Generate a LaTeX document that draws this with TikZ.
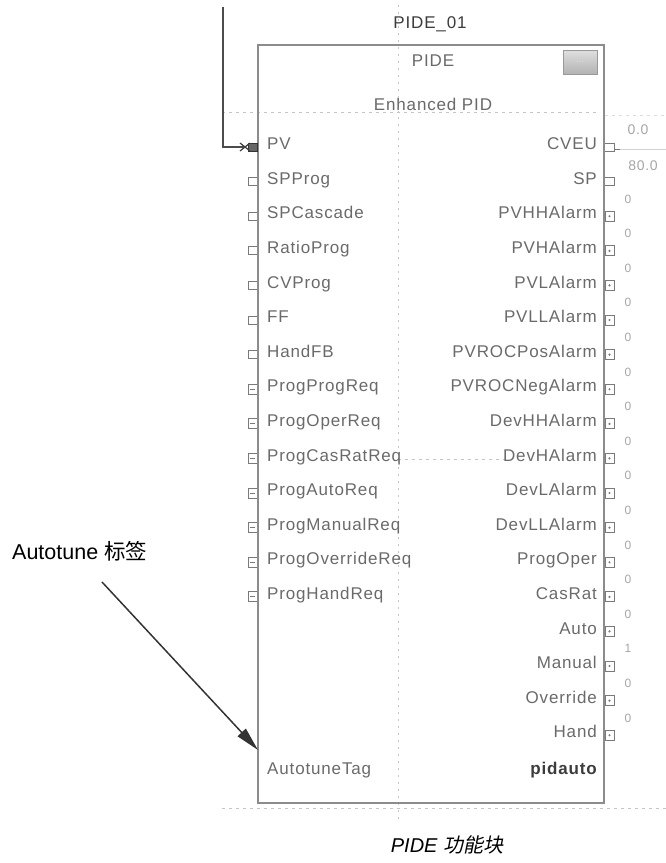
\documentclass[tikz,border=0pt]{standalone}
\usepackage{fontspec}
\setmainfont{Liberation Sans}
\newfontfamily\blk[LetterSpace=5]{Liberation Sans}
\newfontfamily\cjk{Noto Sans CJK SC}
\newfontfamily\cjkit[FakeSlant=0.2]{Noto Sans CJK SC}
\usetikzlibrary{arrows.meta}
\definecolor{blktext}{HTML}{6A6A6A}
\definecolor{blkdark}{HTML}{3C3C3C}
\definecolor{border}{HTML}{8C8C8C}
\definecolor{gridc}{HTML}{C4C4C4}
\definecolor{pinc}{HTML}{7A7A7A}
\tikzset{
  inlbl/.style={font=\blk\fontsize{17}{17}\selectfont, text=blktext, anchor=mid west, inner sep=0pt},
  outlbl/.style={font=\blk\fontsize{17}{17}\selectfont, text=blktext, anchor=mid east, inner sep=0pt},
  vallbl/.style={font=\blk\fontsize{14}{14}\selectfont, text=gray!70, inner sep=0pt},
  gridline/.style={draw=gridc, line width=1pt, dash pattern=on 3pt off 4pt},
  pinline/.style={draw=pinc, line width=1pt},
  wire/.style={draw=black!70, line width=2pt},
}
\begin{document}
\begin{tikzpicture}[x=1pt,y=-1pt]
\useasboundingbox (0,0) rectangle (666,863);
% grid lines
\draw[gridline, dash pattern=on 2pt off 5pt] (398,5) -- (398,822);
\draw[gridline] (222,112) -- (600,112);
\draw[gridline, draw=gridc!60] (605,115) -- (666,115);
\draw[gridline] (398,459) -- (505,459);
\draw[gridline] (222,808) -- (666,808);
% block
\node (blk) [draw=border, line width=2pt, minimum width=346pt, minimum height=758pt, inner sep=0pt] at (431,424) {};
% title
\node (title) [font=\blk\fontsize{17}{17}\selectfont, text=blkdark, inner sep=0pt] at (430,24) {PIDE\_01};
\node (type) [font=\blk\fontsize{17}{17}\selectfont, text=blktext, inner sep=0pt] at (433,61) {PIDE};
\node (desc) [font=\blk\fontsize{17}{17}\selectfont, text=blktext, fill=white, inner sep=1pt] at (433,104) {Enhanced PID};
\node (btn) [draw=gray!80, line width=0.8pt, top color=gray!25, bottom color=gray!60, minimum width=34pt, minimum height=24pt, inner sep=0pt, font=\fontsize{9}{9}\selectfont, text=gray!25] at (580,62) {...};
% inputs
\foreach \lbl [count=\i from 0] in {PV,SPProg,SPCascade,RatioProg,CVProg,FF,HandFB,ProgProgReq,ProgOperReq,ProgCasRatReq,ProgAutoReq,ProgManualReq,ProgOverrideReq,ProgHandReq}{
  \node[inlbl] (in\i) at (267,{147+34.6*\i}) {\lbl};
}
% input pins
\foreach \i in {1,...,6}{
  \draw[pinline] (257,{147+34.6*\i-4}) -- (248,{147+34.6*\i-4}) -- (248,{147+34.6*\i+4}) -- (257,{147+34.6*\i+4});
}
\foreach \i in {7,...,13}{
  \draw[pinline] (257,{147+34.6*\i-5}) -- (248,{147+34.6*\i-5}) -- (248,{147+34.6*\i+5}) -- (257,{147+34.6*\i+5});
  \draw[pinline] (250,{147+34.6*\i}) -- (255,{147+34.6*\i});
}
% PV pin and wire
\coordinate (pvpin) at (246,147);
\coordinate (wtop) at (223,7);
\draw[wire] (wtop) |- (pvpin);
\fill[black!60] (248,143) rectangle (257,151);
\draw[line width=1pt, draw=black!80] (248,143) rectangle (257,151);
\draw[line width=1.2pt, draw=black!75] (240,143) -- (250,151) (240,151) -- (250,143);
% outputs
\foreach \lbl [count=\i from 0] in {CVEU,SP,PVHHAlarm,PVHAlarm,PVLAlarm,PVLLAlarm,PVROCPosAlarm,PVROCNegAlarm,DevHHAlarm,DevHAlarm,DevLAlarm,DevLLAlarm,ProgOper,CasRat,Auto,Manual,Override,Hand}{
  \node[outlbl] (out\i) at (597,{147+34.6*\i}) {\lbl};
}
% output pins
\foreach \i in {0,1}{
  \draw[pinline] (605,{147+34.6*\i-4}) -- (614,{147+34.6*\i-4}) -- (614,{147+34.6*\i+4}) -- (605,{147+34.6*\i+4});
}
\foreach \i in {2,...,17}{
  \draw[pinline] (605,{147+34.6*\i-5}) rectangle (614,{147+34.6*\i+5});
  \fill[pinc] (609.5,{147+34.6*\i}) circle (1.2pt);
}
% CVEU value line
\coordinate (cvend) at (666,149);
\draw[pinline] (614,149) -- (620,149);
\draw[draw=gray!35, line width=0.8pt] (620,149) -- (cvend);
\node[vallbl] (v00) at (638,130) {0.0};
\node[vallbl] (v80) at (643,166) {80.0};
% small output values
\foreach \v [count=\i from 1] in {0,0,0,0,0,0,0,0,0,0,0,0,0,1,0,0}{
  \node[vallbl, font=\blk\fontsize{12}{12}\selectfont] (ov\i) at (628,{147+34.6*(\i+0.5)}) {\v};
}
% bottom labels
\node[inlbl] (atag) at (267,772) {AutotuneTag};
\node[outlbl, font=\blk\fontsize{17}{17}\selectfont\bfseries, text=blkdark] (pidauto) at (597,772) {pidauto};
% annotation
\node (annot) [font=\fontsize{21.5}{21.5}\selectfont, anchor=mid west, inner sep=0pt] at (12,557) {Autotune {\cjk 标签}};
\coordinate (atail) at (102,582);
\coordinate (ahead) at (258,750);
\draw[line width=1.5pt, draw=black!80, -{Triangle[length=24pt,width=11pt]}] (atail) -- (ahead);
% caption
\node (caption) [font=\fontsize{20}{20}\selectfont\itshape, inner sep=0pt] at (447,845) {PIDE {\cjkit 功能块}};
\end{tikzpicture}
\end{document}
